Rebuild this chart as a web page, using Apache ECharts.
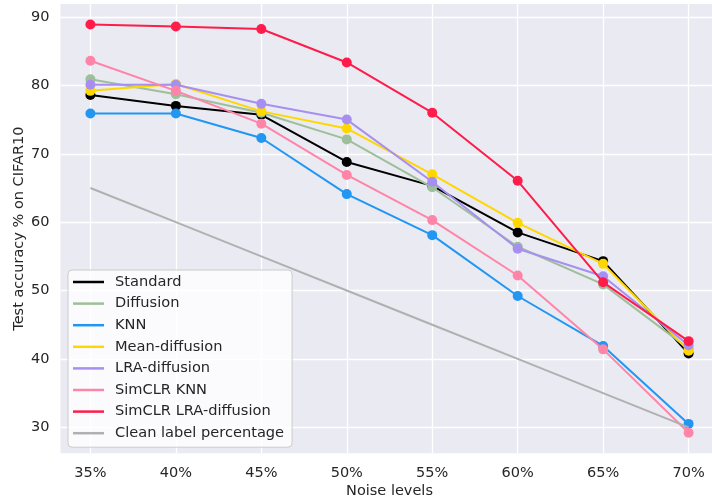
<!DOCTYPE html>
<html>
<head>
<meta charset="utf-8">
<script src="https://cdn.jsdelivr.net/npm/echarts@6/dist/echarts.min.js"></script>
<style>
html,body{margin:0;padding:0;background:#fff;}
#c{width:712px;height:497px;}
</style>
</head>
<body>
<div id="c"></div>
<script>
const noiseLevels = [35, 40, 45, 50, 55, 60, 65, 70];
const yTicks = [30, 40, 50, 60, 70, 80, 90];
const seriesNames = ['Standard', 'Diffusion', 'KNN', 'Mean-diffusion', 'LRA-diffusion', 'SimCLR KNN', 'SimCLR LRA-diffusion', 'Clean label percentage'];
const standard      = [78.6, 77.0, 75.7, 68.8, 65.3, 58.5, 54.3, 40.8];
const diffusion     = [80.9, 78.7, 76.0, 72.1, 65.1, 56.4, 50.9, 41.5];
const knn           = [75.9, 75.9, 72.3, 64.1, 58.1, 49.2, 41.9, 30.5];
const meanDiffusion = [79.2, 80.2, 76.2, 73.7, 67.0, 59.9, 53.9, 41.2];
const lraDiffusion  = [80.1, 80.1, 77.3, 75.0, 65.9, 56.1, 52.1, 42.0];
const simclrKnn     = [83.6, 79.2, 74.4, 66.9, 60.3, 52.2, 41.4, 29.2];
const simclrLra     = [88.9, 88.6, 88.25, 83.35, 76.0, 66.05, 51.2, 42.6];
const cleanLabel    = [65, 60, 55, 50, 45, 40, 35, 30];

const allValues = [standard, diffusion, knn, meanDiffusion, lraDiffusion, simclrKnn, simclrLra, cleanLabel];
const colors = ['#000000', '#9dbf99', '#2196f3', '#ffd700', '#a68ff0', '#ff85a8', '#ff1c4b', '#b0b0b0'];

const textColor = '#262626';
const font = 'DejaVu Sans';

const series = seriesNames.map((name, i) => {
  const isClean = i === 7;
  return {
    name: name,
    type: 'line',
    data: noiseLevels.map((x, j) => [x, allValues[i][j]]),
    symbol: 'circle',
    symbolSize: 10,
    showSymbol: !isClean,
    lineStyle: { color: colors[i], width: 2 },
    itemStyle: { color: colors[i] },
    z: 2 + i * 0.01,
    emphasis: { disabled: true }
  };
});

const chart = echarts.init(document.getElementById('c'), null, { renderer: 'canvas' });
chart.setOption({
  animation: false,
  backgroundColor: '#ffffff',
  textStyle: { fontFamily: font },
  grid: {
    left: 60.5, top: 4, width: 658, height: 449.3,
    outerBoundsMode: 'none',
    show: true, backgroundColor: '#eaeaf2', borderWidth: 0, containLabel: false
  },
  xAxis: {
    type: 'value',
    min: 33.25, max: 71.75,
    name: 'Noise levels',
    nameLocation: 'middle',
    nameGap: 30,
    nameMoveOverlap: false,
    nameTextStyle: { color: textColor, fontSize: 14.5, fontFamily: font },
    axisLine: { show: false },
    axisTick: { show: false, customValues: noiseLevels },
    axisLabel: {
      customValues: noiseLevels,
      formatter: v => v + '%',
      color: textColor, fontSize: 14.5, fontFamily: font, margin: 12
    },
    splitLine: { show: true, lineStyle: { color: '#ffffff', width: 1.3 } }
  },
  yAxis: {
    type: 'value',
    min: 26.2, max: 91.9,
    name: 'Test accuracy % on CIFAR10',
    nameLocation: 'middle',
    nameGap: 33.5,
    nameMoveOverlap: false,
    nameTextStyle: { color: textColor, fontSize: 14.5, fontFamily: font },
    axisLine: { show: false },
    axisTick: { show: false, customValues: yTicks },
    axisLabel: {
      customValues: yTicks,
      color: textColor, fontSize: 14.5, fontFamily: font, margin: 11
    },
    splitLine: { show: true, lineStyle: { color: '#ffffff', width: 1.3 } }
  },
  legend: {
    orient: 'vertical',
    left: 68, top: 270,
    data: seriesNames,
    icon: 'rect',
    itemWidth: 31, itemHeight: 2.5,
    itemGap: 5.6,
    padding: [4, 8, 6, 5],
    backgroundColor: 'rgba(255,255,255,0.8)',
    borderColor: '#cccccc', borderWidth: 1, borderRadius: 4,
    textStyle: { color: textColor, fontSize: 14.6, fontFamily: font, lineHeight: 16, padding: [0, 0, 0, 6] },
    selectedMode: false
  },
  series: series
});
</script>
</body>
</html>
